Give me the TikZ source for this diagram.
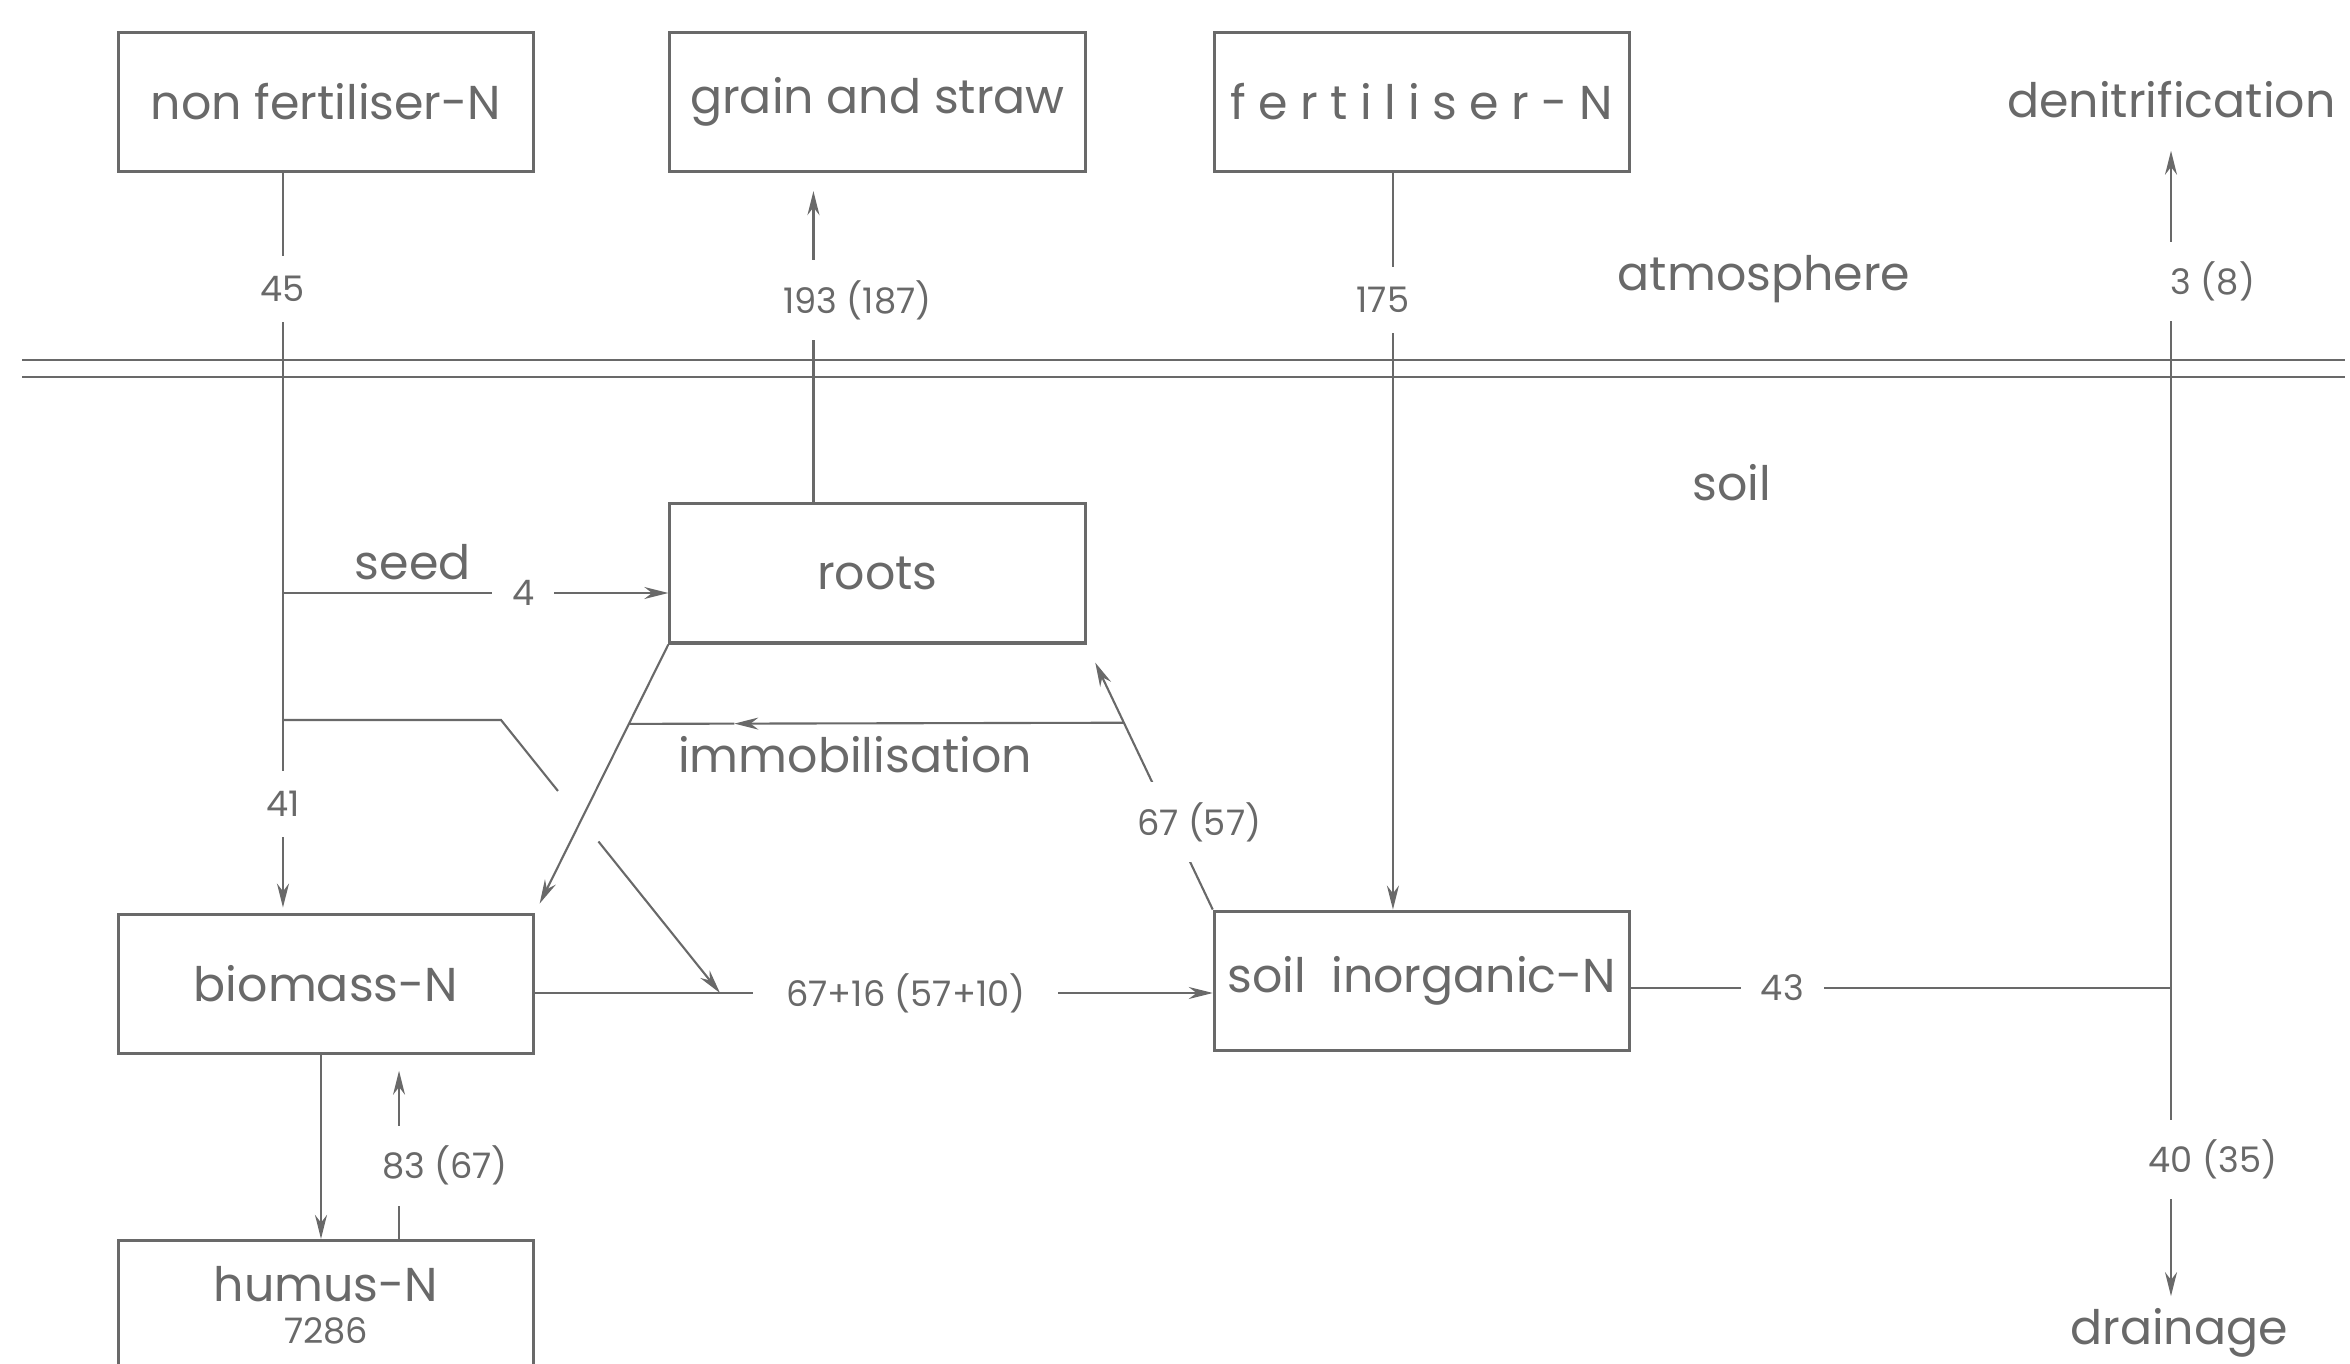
\documentclass[tikz,border=0pt]{standalone}
\usepackage{fontspec}
\setmainfont{Poppins}
\newfontfamily\spacedfont[LetterSpace=26]{Poppins}
\usepackage{tikz}
\usetikzlibrary{positioning, arrows.meta, calc}
\definecolor{pencil}{RGB}{105,105,105}

\begin{document}
\begin{tikzpicture}[>={Stealth[length=0.24cm,width=0.12cm]}, x=0.01cm, y=-0.01cm, node distance=1cm,
    pool/.style={draw=pencil, line width=0.9pt, minimum width=4.15cm, minimum height=1.39cm, inner sep=0pt, text=pencil, font=\fontsize{13.5}{16}\selectfont},
    lbl/.style={text=pencil, font=\fontsize{13.5}{16}\selectfont},
    num/.style={fill=white, text=pencil, inner sep=0.2cm, font=\fontsize{10}{12}\selectfont},
    flow/.style={draw=pencil, line width=0.6pt}]
    \useasboundingbox (0,0) rectangle (2350,1364);
    \clip (0,0) rectangle (2350,1364);

    % 定义库
    \node[pool] (nonfert) at (326,102) {non fertiliser-N};
    \node[pool] (grain) [right=1.33cm of nonfert] {grain and straw};
    \node[pool, font=\spacedfont\fontsize{13.5}{16}\selectfont] (fert) [right=1.26cm of grain] {fertiliser-N};
    \node[pool] (roots) [below=3.29cm of grain] {roots};
    \node[pool] (biomass) [below=7.39cm of nonfert] {biomass-N};
    \node[pool] (soilin) [below=7.36cm of fert] {soil\ \ inorganic-N};
    \node[pool, minimum height=1.3cm, align=center] (humus) [below=1.84cm of biomass] {humus-N\\[-4pt]{\fontsize{10}{12}\selectfont 7286}};

    \node[lbl] (atmo) at (1764,279) {atmosphere};
    \node[lbl] (soil) at (1732,483) {soil};
    \node[lbl, anchor=east] (denit) at (2348,100) {denitrification};
    \node[lbl] (drain) at (2179,1333) {drainage};

    % 地面
    \draw[flow] (22,360) -- (2345,360);
    \draw[flow] (22,377) -- (2345,377);

    % 辅助点
    \coordinate (trunk) at ([xshift=-0.43cm]nonfert.south);
    \coordinate (seedlvl) at (0,593);
    \coordinate (litterlvl) at (0,720);
    \coordinate (litterbend) at (501,720);
    \coordinate (bmlvl) at (0,993);
    \coordinate (bmjoin) at (720,993);
    \coordinate (rootsup) at ([xshift=-0.64cm]roots.north);
    \coordinate (fertout) at ([xshift=-0.29cm]fert.south);
    \coordinate (bmdown) at ([xshift=-0.05cm]biomass.south);
    \coordinate (hmup) at ([xshift=0.73cm]humus.north);
    \coordinate (soilout) at ([yshift=-0.07cm]soilin.east);
    \coordinate (splitx) at (2171,0);
    \coordinate (split) at (soilout -| splitx);
    \coordinate (immL) at ($(roots.south west)!0.296!(biomass.north east)$);
    \coordinate (immR) at ($(soilin.north west)!0.705!(roots.south east)$);
    \coordinate (immtip) at ($(immL)!0.213!(immR)$);

    % 定义流
    \draw[flow, ->, shorten >=0.05cm] (trunk) -- node[num, pos=0.157] {45} node[num, pos=0.853] {41} (trunk |- biomass.north);
    \draw[flow, ->] (trunk |- seedlvl) -- node[num, pos=0.624] {4} node[lbl, pos=0.337, above] {seed} (roots.west |- seedlvl);
    \draw[flow] (trunk |- litterlvl) -- (litterbend) -- ($(litterbend)!0.26!(bmjoin)$);
    \draw[flow, ->] ($(litterbend)!0.445!(bmjoin)$) -- (bmjoin);
    \draw[flow, ->] (biomass.east |- bmlvl) -- node[num, pos=0.547, inner xsep=0.33cm] {67+16 (57+10)} (soilin.west |- bmlvl);
    \draw[flow, ->, shorten >=0.1cm] (roots.south west) -- (biomass.north east);
    \draw[flow, ->] (immR) -- node[lbl, pos=0.69, below] {immobilisation} (immtip);
    \draw[flow] (immtip) -- (immL);
    \draw[flow, ->, shorten >=0.2cm] (soilin.north west) -- node[num, pos=0.33, xshift=0.28cm] {67 (57)} (roots.south east);
    \draw[flow, ->] (fertout) -- node[num, pos=0.172, xshift=-0.1cm] {175} (fertout |- soilin.north);
    \draw[flow, ->, shorten >=0.18cm] (rootsup) -- node[num, pos=0.614, xshift=0.44cm] {193 (187)} (rootsup |- grain.south);
    \draw[flow, ->] (bmdown) -- (bmdown |- humus.north);
    \draw[flow, ->, shorten >=0.16cm] (hmup) -- node[num, pos=0.397, xshift=0.46cm] {83 (67)} (hmup |- biomass.south);
    \draw[flow] (soilout) -- node[num, pos=0.28] {43} (split);
    \draw[flow, ->, shorten >=0.2cm] (split) -- node[num, pos=0.824, xshift=0.42cm] {3 (8)} (split |- denit.south);
    \draw[flow, ->] (split) -- node[num, pos=0.557, xshift=0.42cm] {40 (35)} (split |- drain.north);
\end{tikzpicture}
\end{document}
